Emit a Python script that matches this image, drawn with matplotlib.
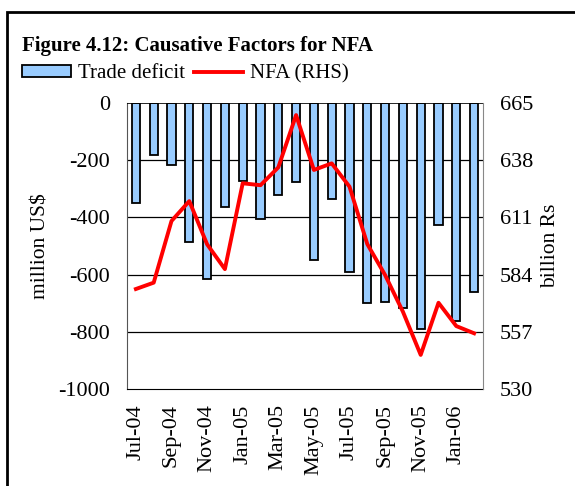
import numpy as np
import matplotlib
matplotlib.use('Agg')
import matplotlib.pyplot as plt
from matplotlib.patches import Rectangle, Patch
from matplotlib.lines import Line2D

plt.rcParams['font.family'] = ['Liberation Serif', 'DejaVu Serif']

months = ['Jul-04', 'Aug-04', 'Sep-04', 'Oct-04', 'Nov-04', 'Dec-04',
          'Jan-05', 'Feb-05', 'Mar-05', 'Apr-05', 'May-05', 'Jun-05',
          'Jul-05', 'Aug-05', 'Sep-05', 'Oct-05', 'Nov-05', 'Dec-05',
          'Jan-06', 'Feb-06']
trade_deficit = [-350, -183, -218, -485, -617, -365, -273, -407, -323, -275,
                 -549, -337, -590, -700, -696, -716, -791, -428, -763, -660]
nfa = [577.2, 580.2, 609.3, 618.7, 598.3, 586.6, 627.1, 626.2, 634.6, 659.3,
       633.4, 636.5, 625.5, 598.4, 583.8, 566.5, 546.1, 570.7, 559.7, 556.3]
left_ticks = [0, -200, -400, -600, -800, -1000]
right_ticks = [665, 638, 611, 584, 557, 530]

fig = plt.figure(figsize=(5.75, 4.86), dpi=100)
ax = fig.add_axes([127/575, 1-389/486, (483-127)/575, (389-103)/486])
x = np.arange(len(months))

# gridlines
for t in left_ticks[1:-1]:
    ax.axhline(t, color='black', lw=0.9, zorder=0)
ax.axhline(0, color='black', lw=1.2, zorder=3)

ax.bar(x, trade_deficit, width=0.45, color='#99ccff', edgecolor='black',
       linewidth=1.3, zorder=2)
ax.set_ylim(-1000, 0)
ax.set_xlim(-0.5, 19.5)
ax.set_yticks(left_ticks)
ax.set_yticklabels([str(t) for t in left_ticks])
ax.set_xticks(x[::2])
ax.set_xticklabels(months[::2], rotation=90)
ax.tick_params(length=0, labelsize=16, pad=11)
ax.tick_params(axis='y', pad=12)
ax.set_ylabel('million US$', fontsize=15.5, labelpad=6)
for s in ['top', 'right']:
    ax.spines[s].set_visible(False)
ax.spines['left'].set_color('#555555')
ax.spines['bottom'].set_color('black')

ax2 = ax.twinx()
ax2.plot(x, nfa, color='red', lw=2.8, zorder=4)
ax2.set_ylim(530, 665)
ax2.set_yticks(right_ticks)
ax2.set_yticklabels([str(t) for t in right_ticks])
ax2.tick_params(length=0, labelsize=16, pad=12)
ax2.set_ylabel('billion Rs', fontsize=15.5, labelpad=6)
for s in ['top', 'left', 'bottom']:
    ax2.spines[s].set_visible(False)
ax2.spines['right'].set_color('#888888')

fig.text(22/575, 1-51/486, 'Figure 4.12: Causative Factors for NFA',
         fontsize=15, fontweight='bold', va='baseline')

handles = [Patch(facecolor='#99ccff', edgecolor='black', linewidth=1.3),
           Line2D([0], [0], color='red', lw=2.8)]
fig.legend(handles, ['Trade deficit', 'NFA (RHS)'], loc='upper left',
           bbox_to_anchor=(22/575, 1-64/486), ncol=2, frameon=False,
           fontsize=15, handlelength=2.35, handleheight=0.5,
           handletextpad=0.35, columnspacing=0.4, borderpad=0,
           borderaxespad=0)

fig.patches.append(Rectangle((7/575, -0.1), 1.2, 1.1 - 12/486,
                             transform=fig.transFigure, fill=False,
                             edgecolor='black', linewidth=2))

fig.savefig('out.png', dpi=100)
